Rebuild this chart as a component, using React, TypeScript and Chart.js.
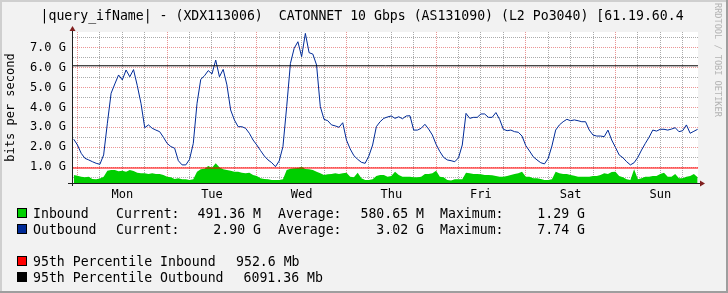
import React, { useEffect, useRef } from 'react';
import { Chart, registerables } from 'chart.js';

Chart.register(...registerables);

// ---------- text ----------
const TITLE = '|query_ifName| - (XDX113006)  CATONNET 10 Gbps (AS131090) (L2 Po3040) [61.19.60.4';
const Y_AXIS_TITLE = 'bits per second';
const WATERMARK = 'RRDTOOL / TOBI OETIKER';
const DAY_LABELS = ['Mon', 'Tue', 'Wed', 'Thu', 'Fri', 'Sat', 'Sun'];

// ---------- axes ----------
const X_MIN_HOUR = -1.2;
const X_MAX_HOUR = 166.1;
const X_TICK_HOURS = [0, 6, 12, 18, 24, 30, 36, 42, 48, 54, 60, 66, 72, 78, 84, 90, 96, 102, 108, 114, 120, 126, 132, 138, 144, 150, 156, 162];
const Y_MIN = 0.2;
const Y_MAX = 7.79;
const Y_TICKS = [0.5, 1, 1.5, 2, 2.5, 3, 3.5, 4, 4.5, 5, 5.5, 6, 6.5, 7, 7.5];

// ---------- data (Gbit/s, one sample per hour, first sample at hour -1 from Monday 00:00) ----------
const START_HOUR = -1;
const STEP_HOURS = 1;

const OUTBOUND_G = [
  2.40, 2.11, 1.69, 1.44, 1.36, 1.27, 1.19, 1.14, 1.61, 3.20, 4.71, 5.18, 5.63, 5.38, 5.88, 5.54, 5.90, 5.10, 4.20, 2.98, 3.12, 2.95, 2.86, 2.78, 2.50,
  2.19, 2.03, 1.95, 1.32, 1.11, 1.11, 1.39, 2.19, 4.20, 5.41, 5.59, 5.85, 5.68, 6.38, 5.54, 5.91, 5.13, 3.87, 3.37, 3.03, 3.03, 2.95, 2.70, 2.36,
  2.11, 1.83, 1.56, 1.36, 1.22, 1.02, 1.31, 2.03, 4.04, 6.21, 6.97, 7.30, 6.55, 7.72, 6.75, 6.68, 6.13, 4.04, 3.40, 3.33, 3.12, 3.07, 3.00, 3.23,
  2.36, 1.91, 1.57, 1.39, 1.24, 1.19, 1.56, 2.11, 3.03, 3.28, 3.45, 3.52, 3.57, 3.45, 3.53, 3.43, 3.57, 3.58, 2.86, 2.86, 2.95, 3.15, 2.91, 2.61,
  2.14, 1.78, 1.49, 1.36, 1.32, 1.27, 1.47, 2.11, 3.70, 3.45, 3.50, 3.50, 3.67, 3.67, 3.50, 3.50, 3.74, 3.40, 2.90, 2.83, 2.86, 2.78, 2.75, 2.56,
  2.08, 1.81, 1.52, 1.36, 1.22, 1.16, 1.44, 2.06, 2.86, 3.12, 3.28, 3.40, 3.33, 3.37, 3.33, 3.28, 3.28, 2.86, 2.61, 2.56, 2.56, 2.53, 2.86, 2.36,
  1.99, 1.61, 1.47, 1.27, 1.11, 1.22, 1.49, 1.86, 2.19, 2.50, 2.86, 2.81, 2.90, 2.90, 2.86, 2.91, 2.98, 2.78, 2.83, 3.12, 2.70, 2.80, 2.90,
];

const INBOUND_G = [
  0.60, 0.57, 0.52, 0.49, 0.52, 0.40, 0.39, 0.42, 0.52, 0.82, 0.85, 0.85, 0.79, 0.82, 0.77, 0.85, 0.80, 0.72, 0.69, 0.69, 0.65, 0.69, 0.65, 0.65, 0.60,
  0.52, 0.49, 0.40, 0.44, 0.39, 0.39, 0.35, 0.39, 0.77, 0.89, 0.92, 1.06, 0.97, 1.19, 0.99, 0.89, 0.85, 0.82, 0.77, 0.77, 0.72, 0.69, 0.72, 0.60,
  0.55, 0.44, 0.40, 0.39, 0.35, 0.35, 0.35, 0.39, 0.85, 0.92, 0.94, 0.95, 1.02, 0.90, 0.89, 0.85, 0.77, 0.69, 0.60, 0.64, 0.65, 0.69, 0.65, 0.69,
  0.72, 0.52, 0.49, 0.72, 0.44, 0.35, 0.35, 0.39, 0.55, 0.60, 0.60, 0.52, 0.55, 0.77, 0.60, 0.52, 0.52, 0.52, 0.49, 0.49, 0.52, 0.65, 0.65, 0.69,
  0.82, 0.52, 0.49, 0.35, 0.32, 0.39, 0.39, 0.39, 0.72, 0.69, 0.65, 0.65, 0.64, 0.60, 0.60, 0.59, 0.55, 0.52, 0.52, 0.55, 0.60, 0.65, 0.69, 0.77,
  0.52, 0.52, 0.44, 0.44, 0.40, 0.35, 0.35, 0.39, 0.77, 0.69, 0.65, 0.65, 0.60, 0.57, 0.52, 0.52, 0.52, 0.52, 0.55, 0.55, 0.60, 0.69, 0.65, 0.75,
  0.77, 0.55, 0.49, 0.39, 0.35, 0.89, 0.39, 0.44, 0.52, 0.52, 0.55, 0.55, 0.65, 0.72, 0.52, 0.52, 0.65, 0.44, 0.44, 0.52, 0.55, 0.65, 0.49,
];

const P95_INBOUND_G = 0.9526;
const P95_OUTBOUND_G = 6.09136;

// ---------- legend ----------
const LEGEND_SERIES = ['Inbound', 'Outbound'];
const LEGEND_CURRENT = ['491.36 M', '2.90 G'];
const LEGEND_AVERAGE = ['580.65 M', '3.02 G'];
const LEGEND_MAXIMUM = ['1.29 G', '7.74 G'];
const LEGEND_P95_LABELS = ['95th Percentile Inbound', '95th Percentile Outbound'];
const LEGEND_P95_VALUES = ['952.6 Mb', '6091.36 Mb'];

// ---------- style ----------
const C_IN = '#00CF00';
const C_OUT = '#002A97';
const C_P95_IN = '#FF0000';
const C_P95_OUT = '#000000';
const C_BACK = '#F2F2F2';
const C_GRID = 'rgba(143,143,143,0.75)';
const C_MGRID = 'rgba(222,79,79,0.6)';
const C_AXIS = '#1F1F1F';
const C_ARROW = '#801F1F';
const MONO = '"DejaVu Sans Mono", monospace';

const SAMPLE_HOURS = OUTBOUND_G.map((_, i) => START_HOUR + i * STEP_HOURS);

const rrdPlugin = {
  id: 'rrdLook',
  beforeDraw(chart: any) {
    const { ctx, chartArea: a, width, height } = chart;
    ctx.save();
    ctx.fillStyle = C_BACK;
    ctx.fillRect(0, 0, width, height);
    ctx.fillStyle = '#CFCFCF';
    ctx.fillRect(0, 0, width, 2);
    ctx.fillRect(0, 0, 2, height);
    ctx.fillStyle = '#9E9E9E';
    ctx.fillRect(0, height - 2, width, 2);
    ctx.fillRect(width - 2, 0, 2, height);
    ctx.fillStyle = '#FFFFFF';
    ctx.fillRect(a.left, a.top, a.right - a.left, a.bottom - a.top);
    ctx.restore();
  },
  afterDraw(chart: any) {
    const { ctx, chartArea: a } = chart;
    ctx.save();
    // axes
    ctx.strokeStyle = C_AXIS;
    ctx.lineWidth = 1;
    ctx.beginPath();
    ctx.moveTo(a.left - 0.5, a.bottom + 3);
    ctx.lineTo(a.left - 0.5, a.top - 1);
    ctx.moveTo(a.left - 5, a.bottom + 0.5);
    ctx.lineTo(a.right + 2, a.bottom + 0.5);
    ctx.stroke();
    // arrows
    ctx.fillStyle = C_ARROW;
    ctx.beginPath();
    ctx.moveTo(a.left - 3.5, a.top - 1);
    ctx.lineTo(a.left + 2.5, a.top - 1);
    ctx.lineTo(a.left - 0.5, a.top - 6);
    ctx.closePath();
    ctx.fill();
    ctx.beginPath();
    ctx.moveTo(a.right + 2, a.bottom - 2.5);
    ctx.lineTo(a.right + 2, a.bottom + 3.5);
    ctx.lineTo(a.right + 7, a.bottom + 0.5);
    ctx.closePath();
    ctx.fill();

    // title
    ctx.fillStyle = '#000000';
    ctx.textBaseline = 'alphabetic';
    ctx.font = `13.2px ${MONO}`;
    ctx.textAlign = 'left';
    ctx.fillText(TITLE, 40.5, 19.5);

    // y axis title
    ctx.save();
    ctx.font = `12px ${MONO}`;
    ctx.translate(14, (a.top + a.bottom) / 2);
    ctx.rotate(-Math.PI / 2);
    ctx.textAlign = 'center';
    ctx.fillText(Y_AXIS_TITLE, 0, 0);
    ctx.restore();

    // watermark
    ctx.save();
    ctx.font = `8.6px ${MONO}`;
    ctx.fillStyle = '#B4B4B4';
    ctx.translate(715, 3);
    ctx.rotate(Math.PI / 2);
    ctx.textAlign = 'left';
    ctx.fillText(WATERMARK, 0, 0);
    ctx.restore();

    // legend
    ctx.font = `13.2px ${MONO}`;
    const square = (color: string, top: number) => {
      ctx.fillStyle = '#000000';
      ctx.fillRect(17, top, 10, 10);
      ctx.fillStyle = color;
      ctx.fillRect(18, top + 1, 8, 8);
      ctx.fillStyle = '#000000';
    };
    const t = (s: string, x: number, y: number, align: CanvasTextAlign = 'left') => {
      ctx.textAlign = align;
      ctx.fillText(s, x, y);
    };
    const rowColors = [C_IN, C_OUT];
    const rowBase = [218, 234];
    for (let i = 0; i < 2; i++) {
      square(rowColors[i], rowBase[i] - 10);
      t(LEGEND_SERIES[i], 33, rowBase[i]);
      t('Current:', 116, rowBase[i]);
      t(LEGEND_CURRENT[i], 261, rowBase[i], 'right');
      t('Average:', 278, rowBase[i]);
      t(LEGEND_AVERAGE[i], 424, rowBase[i], 'right');
      t('Maximum:', 440, rowBase[i]);
      t(LEGEND_MAXIMUM[i], 585, rowBase[i], 'right');
    }
    const pColors = [C_P95_IN, C_P95_OUT];
    const pBase = [266, 282];
    const pValX = [236, 243.5];
    for (let i = 0; i < 2; i++) {
      square(pColors[i], pBase[i] - 10);
      t(LEGEND_P95_LABELS[i], 33, pBase[i]);
      t(LEGEND_P95_VALUES[i], pValX[i], pBase[i]);
    }
    ctx.restore();
  },
};

export default function App() {
  const ref = useRef<HTMLCanvasElement>(null);
  useEffect(() => {
    document.body.style.margin = '0';
    const canvas = ref.current;
    if (!canvas) return;
    const hrule = (v: number) => [
      { x: X_MIN_HOUR, y: v },
      { x: X_MAX_HOUR, y: v },
    ];
    const chart = new Chart(canvas, {
      type: 'line',
      data: {
        datasets: [
          {
            label: '95th Percentile Outbound',
            data: hrule(P95_OUTBOUND_G),
            borderColor: C_P95_OUT,
            borderWidth: 1,
            pointRadius: 0,
            fill: false,
            order: 0,
          },
          {
            label: '95th Percentile Inbound',
            data: hrule(P95_INBOUND_G),
            borderColor: C_P95_IN,
            borderWidth: 1,
            pointRadius: 0,
            fill: false,
            order: 1,
          },
          {
            label: 'Outbound',
            data: OUTBOUND_G.map((v, i) => ({ x: SAMPLE_HOURS[i], y: v })),
            borderColor: C_OUT,
            borderWidth: 1,
            pointRadius: 0,
            fill: false,
            tension: 0,
            order: 2,
          },
          {
            label: 'Inbound',
            data: INBOUND_G.map((v, i) => ({ x: SAMPLE_HOURS[i], y: v })),
            borderColor: 'rgba(0,0,0,0)',
            borderWidth: 0,
            backgroundColor: C_IN,
            pointRadius: 0,
            fill: 'start',
            tension: 0,
            order: 3,
          },
        ] as any,
      },
      options: {
        animation: false,
        responsive: false,
        devicePixelRatio: 1,
        layout: { padding: { left: 0, top: 32, right: 30, bottom: 0 } },
        plugins: {
          legend: { display: false },
          tooltip: { enabled: false },
          title: { display: false },
        },
        scales: {
          x: {
            type: 'linear',
            min: X_MIN_HOUR,
            max: X_MAX_HOUR,
            afterBuildTicks: (s: any) => {
              s.ticks = X_TICK_HOURS.map((v) => ({ value: v }));
            },
            afterFit: (s: any) => {
              s.height = 110;
            },
            ticks: {
              autoSkip: false,
              maxRotation: 0,
              padding: 5,
              color: '#000000',
              font: { family: MONO, size: 12 },
              callback: (v: any) => {
                const n = Number(v);
                return n % 24 === 12 ? DAY_LABELS[(n - 12) / 24] : '';
              },
            },
            grid: {
              drawTicks: false,
              lineWidth: 1,
              color: (c: any) => (c.tick && c.tick.value % 24 === 0 ? C_MGRID : C_GRID),
            },
            border: { display: false, dash: [1, 1] },
          },
          y: {
            type: 'linear',
            min: Y_MIN,
            max: Y_MAX,
            afterBuildTicks: (s: any) => {
              s.ticks = Y_TICKS.map((v) => ({ value: v }));
            },
            afterFit: (s: any) => {
              s.width = 73;
            },
            ticks: {
              autoSkip: false,
              padding: 7,
              color: '#000000',
              font: { family: MONO, size: 12 },
              callback: (v: any) => {
                const n = Number(v);
                return n % 1 === 0 ? `${n.toFixed(1)} G` : '';
              },
            },
            grid: {
              drawTicks: false,
              lineWidth: 1,
              color: (c: any) => (c.tick && c.tick.value % 1 === 0 ? C_MGRID : C_GRID),
            },
            border: { display: false, dash: [1, 1] },
          },
        },
      } as any,
      plugins: [rrdPlugin],
    });
    return () => chart.destroy();
  }, []);
  return (
    <canvas
      ref={ref}
      width={728}
      height={293}
      style={{ display: 'block', width: 728, height: 293 }}
    />
  );
}
